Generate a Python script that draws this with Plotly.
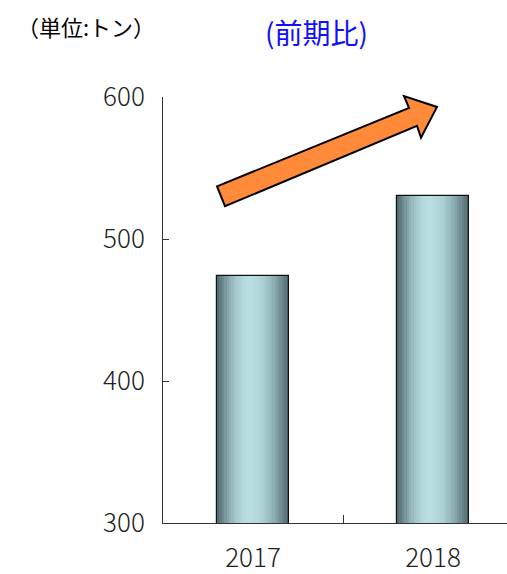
import plotly.graph_objects as go
import numpy as np

# ---- data ----
categories = ["2017", "2018"]
values = [474, 530]
y_ticks = [300, 400, 500, 600]
unit_label = "（単位:トン）"
title_text = "(前期比)"

# ---- layout constants ----
W, H = 507, 574
ML, MR, MT, MB = 163, 0, 97, 48
PW, PH = W - ML - MR, H - MT - MB

def px2paper(px, py):
    return (px - ML) / PW, (H - MB - py) / PH

FONT = "Noto Sans CJK JP, Liberation Sans, Arial, sans-serif"

fig = go.Figure()

# cylindrical gradient made of thin vertical slices
N = 30
bar_w = 0.4
dark = np.array([74, 98, 102])
light = np.array([184, 222, 226])
for i in range(N):
    t = (i + 0.5) / N
    peak = 0.45
    if t < peak:
        s = np.sin(np.pi / 2 * t / peak)
    else:
        s = np.cos(np.pi / 2 * (t - peak) / (1 - peak))
    s = s ** 0.9
    c = dark + (light - dark) * s
    col = "rgb(%d,%d,%d)" % tuple(c.round().astype(int))
    fig.add_trace(go.Bar(
        x=categories, y=values,
        width=bar_w / N + 0.002, offset=-bar_w / 2 + i * bar_w / N,
        marker=dict(color=col, line=dict(width=0)),
        showlegend=False, hoverinfo="skip",
    ))

# outline
fig.add_trace(go.Bar(
    x=categories, y=values, width=bar_w, offset=-bar_w / 2,
    marker=dict(color="rgba(0,0,0,0)", line=dict(color="#111", width=1.2)),
    showlegend=False,
))

# decorative arrow (pixel positions converted to paper coords)
arrow_px = [(217, 187), (409, 108), (404, 96), (437, 107),
            (421, 138), (417, 126), (225, 207)]
pts = [px2paper(x, y) for x, y in arrow_px]
path = "M " + " L ".join("%.4f,%.4f" % p for p in pts) + " Z"
fig.add_shape(type="path", path=path, xref="paper", yref="paper",
              fillcolor="#FF8A3A", line=dict(color="black", width=2),
              layer="above")

ux, uy = px2paper(86, 25)
tx, ty = px2paper(316, 32)
fig.add_annotation(text=unit_label, x=ux, y=uy, xref="paper", yref="paper",
                   showarrow=False, xanchor="center", yanchor="middle",
                   font=dict(family=FONT, size=22, color="black"))
fig.add_annotation(text=title_text, x=tx, y=ty, xref="paper", yref="paper",
                   showarrow=False, xanchor="center", yanchor="middle",
                   font=dict(family=FONT, size=28, color="#1010FF"))

fig.update_layout(
    width=W, height=H,
    margin=dict(l=ML, r=MR, t=MT, b=MB, pad=0),
    paper_bgcolor="white", plot_bgcolor="white",
    barmode="overlay", bargap=0,
    font=dict(family=FONT, size=26, color="#222"),
    xaxis=dict(
        type="category", range=[-0.5, -0.5 + PW / 180.0],
        showline=True, linecolor="#333", linewidth=1,
        ticks="inside", tickson="boundaries", ticklen=8, tickcolor="#333",
        showgrid=False, zeroline=False, ticklabelstandoff=12,
        tickfont=dict(size=26, color="#222", weight=300),
    ),
    yaxis=dict(
        range=[300, 600], tickvals=y_ticks,
        showline=True, linecolor="#333", linewidth=1,
        ticks="inside", ticklen=6, tickcolor="#333",
        showgrid=False, zeroline=False, ticklabelstandoff=12,
        tickfont=dict(size=26, color="#222", weight=300),
    ),
)

fig.write_html("out.html", config={"displayModeBar": False},
               post_script="document.body.style.margin='0';document.body.style.overflow='hidden';")
